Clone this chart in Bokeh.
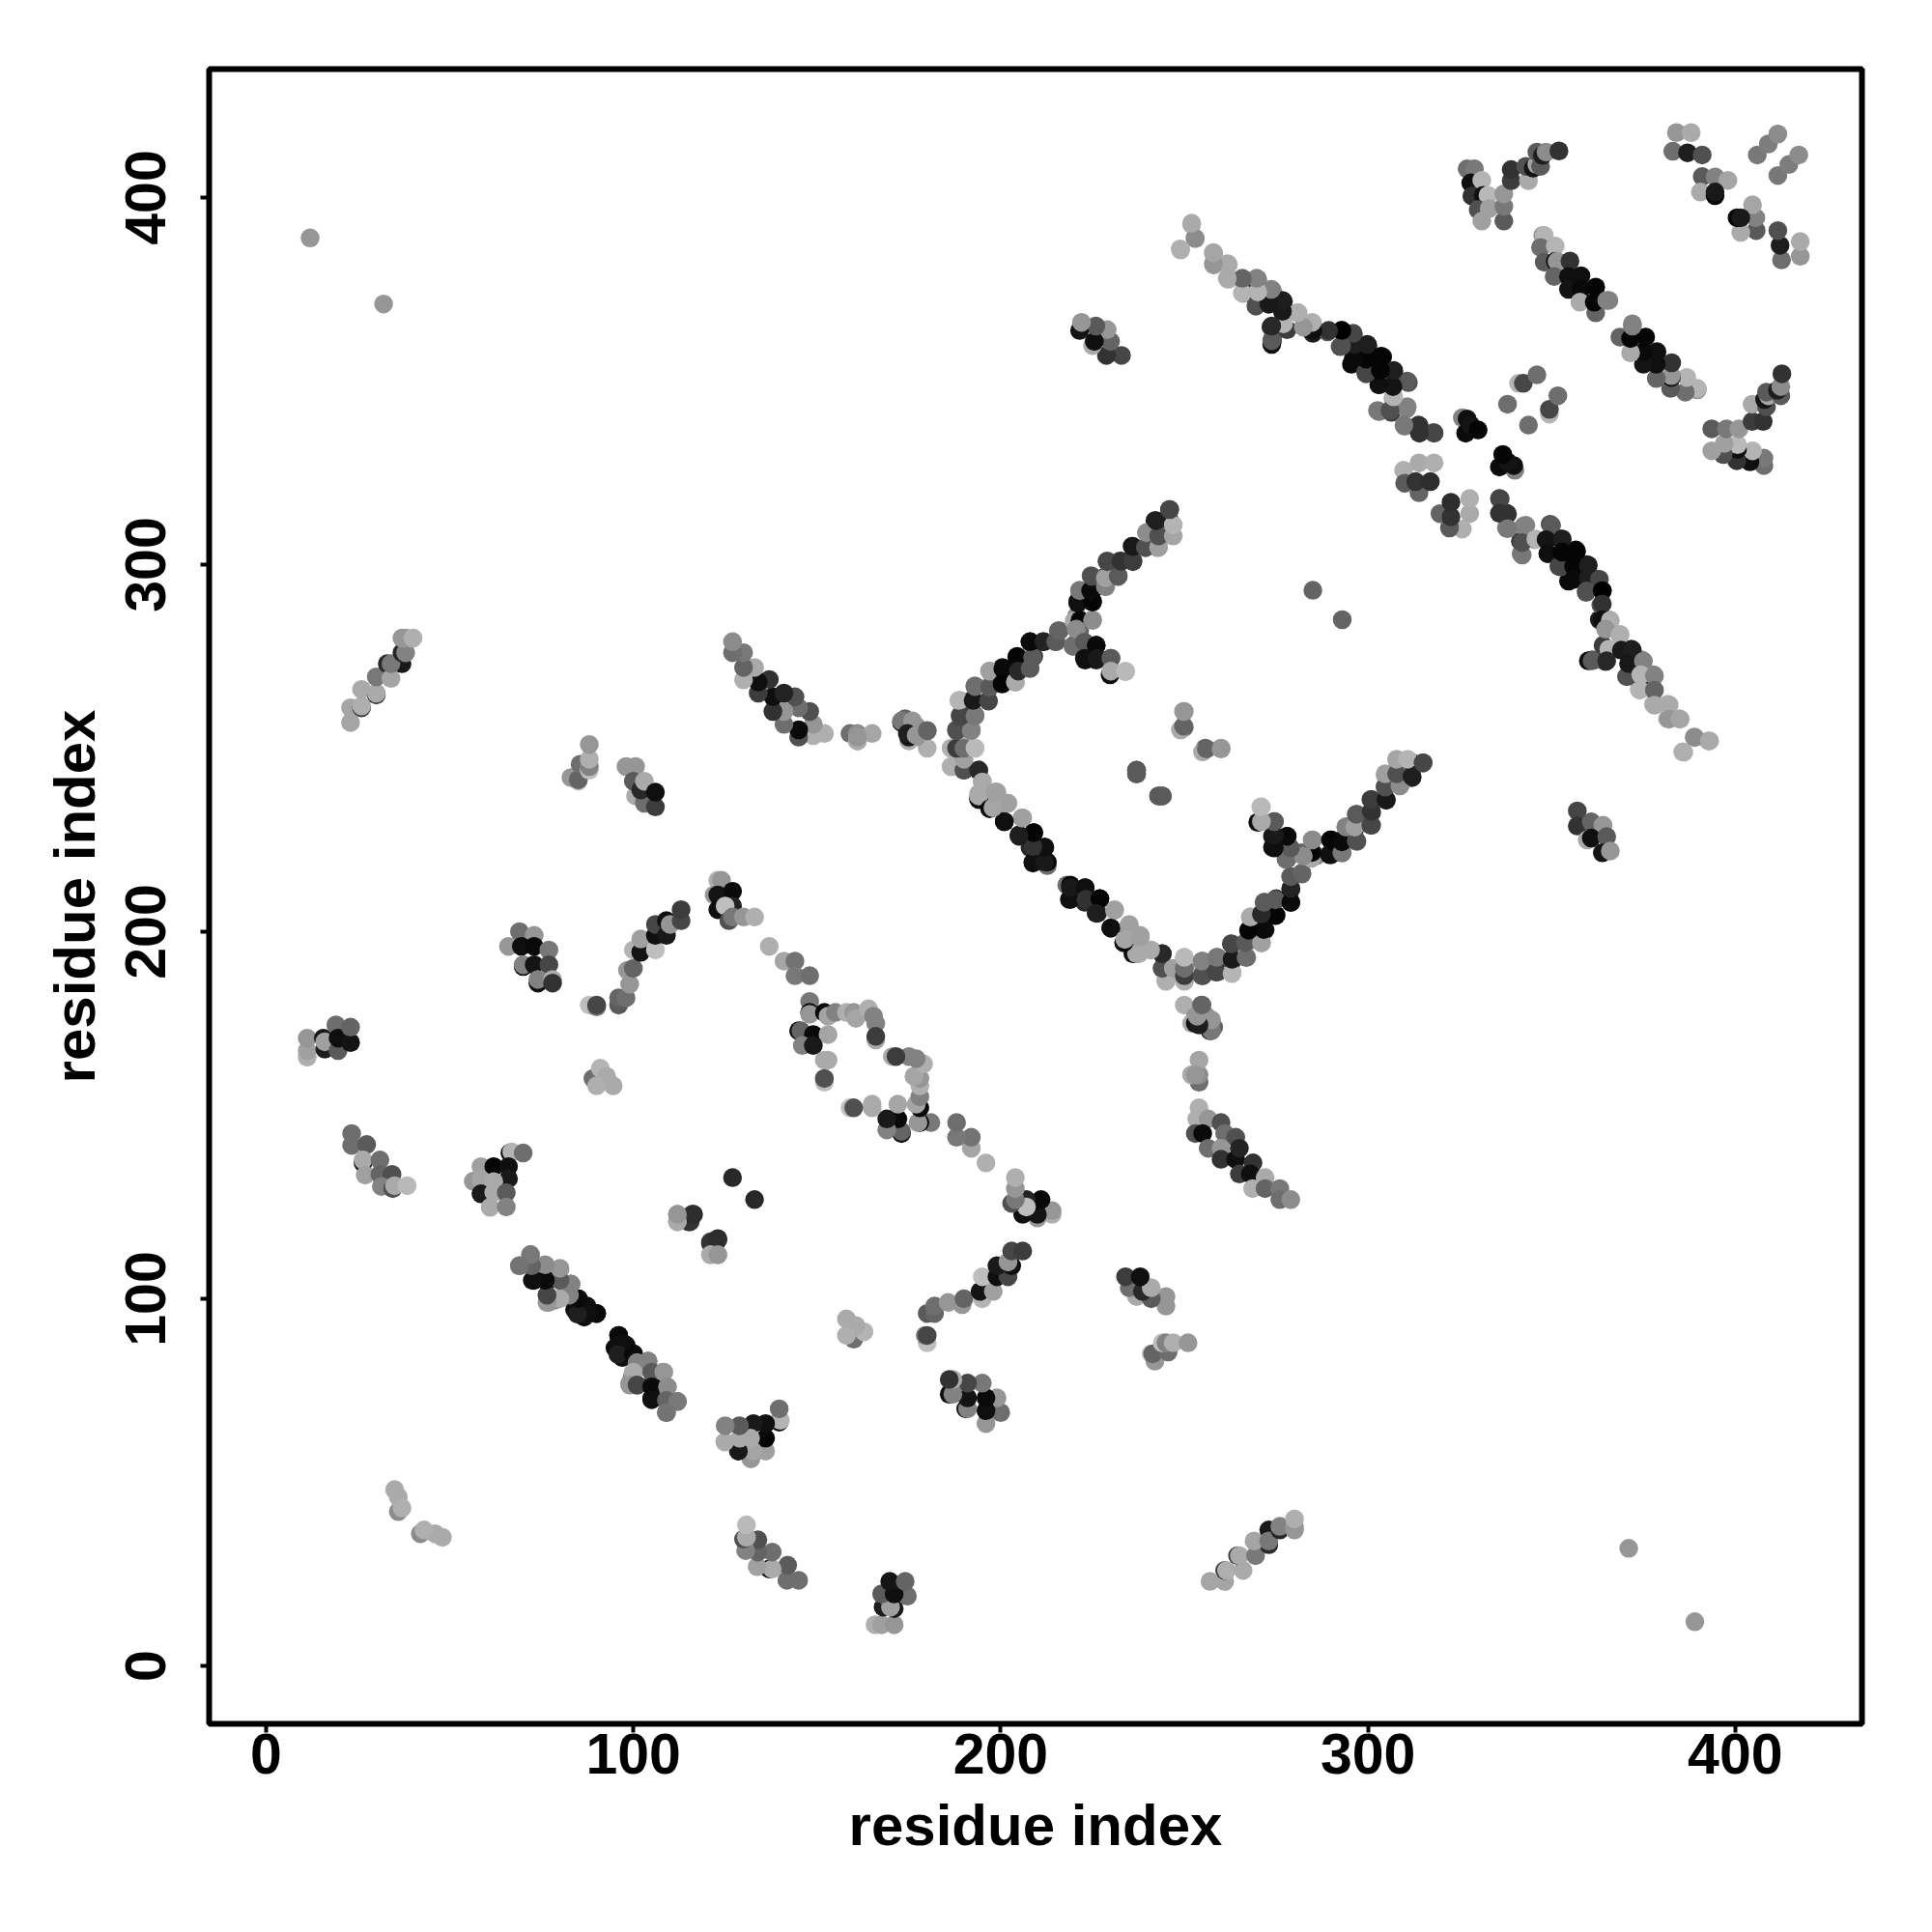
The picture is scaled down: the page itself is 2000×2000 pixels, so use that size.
from bokeh.plotting import figure
from bokeh.models import ColumnDataSource, FixedTicker
from bokeh.embed import file_html
from bokeh.resources import INLINE

# residue a, residue b, gray level; every contact is shown on both sides of the diagonal
singles = [(12,389,150),(32,371,150),(285,293,100),(127,133,40),(237,244,100),(237,243,90),(243,237,90),(244,237,90)]
c_36_47 = [(36,42,140),(36,46,170),(35,48,170),(37,43,175)]
c_23_40 = [(23,257,165),(23,261,165),(26,261,60),(26,261.5,175),(26,266,170),(30,264.5,60),(30,265,170),(30,269.4,120),(33,273,40),(34,269,165),(37,273,25),(34,273,120),(37,276,40),(38,276,130),(37,280,150),(38,280,150),(40,280,175)]
c_84_91 = [(85,241,190),(83,242,150),(85,241.4,100),(85.5,245.6,110),(88,244,190),(88,245,130),(88,247,175),(88,251,150)]
c_99_108 = [(98,245,150),(100.6,245,150),(100.6,237,170),(103,235,110),(100,241,90),(102,238.6,40),(103,241,170),(106,234,60),(106,238,15)]
c_70_80 = [(69,200,110),(73,199,150),(66,196,150),(69.5,196,15),(73,196,10),(77,195,120),(70,190.5,20),(70,191,130),(73,191,20),(77,191,70),(74,186,15),(74,187,130),(78,187,170),(78,186,50)]
c_90_125 = [(88,180,190),(90,179.5,120),(90,180,70),(96,180,90),(96,182,100),(98,182,110),(99,185.7,150),(98.4,189.5,150),(100,190,100),(100,195,180),(102,194.4,20),(102,198,160),(106,195,190),(106,199,15),(106,202,70),(109,199,25),(109,203,15),(110,202,150),(113,203,70),(113,206,60)]
c_122_133 = [(123,214,175),(124,214,150),(122,210,150),(123,210,20),(127,211,10),(123,206,15),(127,207,35),(125,207,190),(126,203,80),(127,204,120),(130,204,150),(133,204,175)]
c_137_148 = [(137,196,175),(141,192,165),(144,192,115),(144,188,120),(148,188,110)]
c_146_166 = [(148,181,120),(148,178,10),(148,177.5,150),(152,178,10),(153,177,165),(155,178,130),(158,178,175),(160,178,150),(160.6,176.4,165),(164,179,175),(165.4,177,130),(166,175,130),(166,170.5,170),(166,171.5,60),(145,173,15),(145.6,173,100),(149,172,10),(153,172,165),(146,169,130),(149,169,25),(153,165,170),(152,165,170),(152,159,190),(152,160,80)]
c_258_127 = [(254,152,175),(253.4,149,175),(256.5,149,150),(260,148,80),(253,145,80),(255,145,10),(261,145,110),(264,144,80),(256.5,141,110),(260,141,150),(260,138,50),(264,138,15),(265,141,35),(268.7,137,50),(265,134,60),(268,134,15),(272,133,170),(268.6,130,175),(272,130,100),(276,130,120),(276,127,110),(279,127,140)]
c_172_180 = [(250,180,175),(254.7,180,100),(253,177,150),(256,177,140),(252,175,170),(253,175,20),(257,173,25),(258,174,100),(252,161,180),(254,159,110),(254,161,140),(254,165,165),(161,252,170),(161,253,150)]
valley = [(235,201,170),(238,199,160),(241,195,175),(236,194,20),(237.6,194,170),(244,194,45),(244,190,90),(246,190,175),(245,187,170),(250,187,170),(250,189,100),(250,193,185),(252,189,180),(255,188,70),(255,192,120),(259,189,80),(259,193,100),(260,192,50),(263,189,185),(263,192,80),(263,196.6,80),(267,193,120),(267,197,170),(267.7,200,10),(271,197,160),(272,200.5,20)]
right_arm = [(268,204,160),(272,208,120),(271.4,204,15),(275,204.5,5),(275,209,50),(279,208,15),(279,211.5,20),(279,215,80),(282,215.7,100),(270.5,230,10),(271,234,190),(274.5,230,80),(274,226,25),(278,226,15),(274,223,15),(278.5,223,90),(278,219.8,100),(284,221,30),(282,221.5,100),(286,220.7,140),(285,225,165),(290,221,30),(290,225,5),(293,225,15),(293,221.5,120),(294,228.6,150),(296.4,228,25),(297,232,110),(297,224.6,90),(301,236,50),(305,235.8,20),(301,232.5,50),(301,229,80),(304.7,239.5,85),(308.8,240,120),(306,242.8,20),(304.7,242.6,160),(308,242.6,100),(308,246.5,165),(310.8,246.5,170),(312,242,30),(312,246,30),(315,246,60)]
left_arm = [(186.5,245,175),(190,244,80),(194,244,40),(190,247,160),(186.5,250,175),(188,250,60),(190,250,110),(193,250,185),(188,254.8,80),(192,254.8,130),(189,258.6,70),(193,258.8,120),(195,240.8,170),(194,236.5,10),(194,237,170),(198.7,238,160),(197,233.5,10),(198,233.8,80),(202,235,170),(201,230,10),(206,231,160),(205,226.4,40),(209,227,5),(208,222.9,40),(212,223,10),(212.7,218,110),(208.8,218.7,10),(212.7,219,5)]
upper_arm = [(188.6,263,180),(192.5,263,25),(196.7,262.8,70),(193,266.8,110),(197,266.6,90),(197,271,160),(200.6,271.6,10),(200.4,267.5,5),(204,268,170),(204.4,274.8,5),(204.8,271,40),(208,271.7,90),(208.7,274.8,90),(208,279,10),(211.8,279,35),(215,279,90),(216,282,100),(220,284.6,170),(221.6,284.8,5),(225,284.8,140),(221,289.5,15),(225,289.8,5),(221.5,292.9,120),(224.5,292.9,10),(224.8,296.8,80),(228.5,294,130),(228.5,296.4,160),(232,296.8,90),(229,300.8,70),(232.8,300.9,50),(236,300.8,60),(236,304.9,25),(239.4,304.7,80),(243,304.7,160),(239.7,308.7,140),(243,307.8,80),(247,307.8,165),(242.3,312,30),(247,310.8,180),(246,315,70)]
branch = [(219.7,277.7,110),(220.6,282.4,140),(222.8,278.9,90),(226,278,10),(222.8,274.5,15),(226.3,274.5,25),(230,274.5,90),(229.8,270,15),(230,271,170),(234,270.8,185)]
c_249_260 = [(249,255,170),(250,255.7,100),(250,260,150),(255,249,170),(256,249.8,100),(260,249.8,150)]
c_173_180 = [(173,257.4,120),(176,257.4,150),(174.6,254,30),(177,253.5,150),(180,254.8,100)]
near_diag_218 = [(219,208.8,15),(219,212,25),(223,212,15),(223.2,208.8,50),(227,209,5),(226,205,30),(231,205.8,160),(230,201,15),(235,201.8,160),(233.8,197.9,165),(238,198.5,160)]
band_t = [(252,392.7,180),(253,388.8,150),(249,385.7,175),(258,384.7,165),(258,381.6,160),(262,381.6,180),(262,377.7,180),(266,377.7,90),(270,377.7,130),(266,373.9,160),(269.6,370.8,90),(269,374,25),(270.5,374.8,180),(274,374.6,130),(273,371,40),(277,368,60),(277,371.7,35),(281,368.6,170),(274,361,30),(274,361.5,90),(273.6,364.7,50),(278,364,60),(282.8,364.7,150),(285,363,30),(285,365.6,180),(289,363.4,90),(292.8,363.8,10),(296,362.5,70),(292.4,359.4,90),(296.8,360,50),(300,359.6,40),(296.5,356.8,10),(300.7,356.8,5),(295.5,354.6,10),(299.4,352.4,80),(304,356.6,10),(303,352.9,5),(307,352.4,30),(303,349,15),(307,349,20),(311,349.6,80),(306.8,345.4,170),(303,341.7,120),(306.4,341.5,60),(310.5,342.4,130),(310,337.7,130),(314,336,50),(314,337.7,45),(318,335.8,60)]
dark_330 = [(325.7,340,130),(327,339.7,15),(326.6,335.8,10),(328,338,20),(330,336.7,5)]
c_310_318 = [(309.7,325.7,175),(310,322.2,90),(313.9,327.7,170),(318,327.7,175),(313.9,319.6,100),(313,322.6,50),(317,322.6,45)]
band_338 = [(336,317.9,70),(335.8,314,50),(338,313.8,50),(338,309.8,120),(343,310.7,130),(342,302.6,120),(342,306,80),(345.7,307,180),(350,310.7,90),(348.5,306.8,20),(349,303,15),(352.9,307,30),(352,299.5,70),(352.9,303.4,5),(356.8,303.6,5),(356,299.5,5),(360,299.8,30),(356,296,10),(360,296.4,30),(363,296,70),(359.5,292.8,80),(363.8,292.9,0),(363.8,289.3,50),(363.8,285,15),(366,284.8,175),(364.7,282.4,150),(368.6,280.8,175),(365.6,277,180),(369,276.7,25),(372,276.7,30),(360,273.8,15),(361,273.8,90),(365,273.8,40),(370.4,269.5,80),(371,273,25),(375,273.7,130),(374.3,270,180),(378,269.7,130),(374,265.8,180),(378,265.8,100),(378,261.7,170),(382,261.8,170),(382,257.9,150),(385,257.9,165),(389,252.9,140),(393,252,170),(386,248.9,175)]
c_357_366 = [(357,232.9,70),(357,228.8,50),(360.8,229.9,100),(364,229,150),(359.7,225,170),(360.8,225.5,15),(365,225.9,90),(363.8,221.5,20),(366,222,150)]
c_327_352 = [(327,407.8,110),(329,407.8,120),(328,404,15),(331,404.7,180),(328.3,400.4,50),(331.4,400.6,15),(332.7,400.6,185),(330,396.7,80),(333,397,160),(331,393.6,160),(337,393.6,90),(337,397.6,120),(337,401,150),(339,404.6,60),(339,407.6,50),(343.7,404.6,170),(343,408.5,80),(345,408,20),(346,409,165),(347,408.5,90),(346,412.4,90),(347.5,411.5,30),(348.5,412.4,140),(352,412.7,50)]
band_v = [(347.6,389.7,150),(348,389.7,180),(347,386.4,110),(351,386.8,180),(348,382.4,90),(351,382.6,15),(351.5,382.6,150),(355,382.7,50),(350.7,378.5,100),(354.6,378.5,15),(358,378.7,15),(354.6,375,20),(358,375,10),(357.7,371.5,170),(362,368.6,100),(361.6,371.5,5),(362,375.6,5),(365,372,130),(365.6,372,130)]
c_383_412 = [(384,417.7,150),(388,417.7,170),(383,412.6,110),(387,412.2,30),(391,411.6,80),(391,405.7,90),(394.5,405.6,130),(398,404.7,165),(390.5,401.5,170),(394.5,400.5,5),(394.5,401.5,25),(406,411.6,120),(409,414.6,125),(411.6,417.3,140)]
c_338_352 = [(338,343.7,110),(341,349.4,180),(342.3,349.4,70),(346,351.7,110)]
c_11_23 = [(11.2,165.8,175),(11.2,167.6,160),(11.2,171,150),(15.6,171,25),(16,168,30),(16,170,160),(19.6,167.6,90),(19,174.6,110),(19.6,171,15),(23,169.8,20),(23,174,100)]
c_23_38 = [(23.3,145,110),(23.3,141.8,110),(27.4,142,90),(26.4,137,15),(26.4,137.8,170),(31,137.8,110),(27,133.7,160),(31,133.9,100),(34.3,133.9,80),(31.4,130.6,130),(34.5,130,80),(35,130.8,170),(38.4,130.8,185)]
c_56_70 = [(66.4,139.7,15),(66.9,140,180),(70,139.7,110),(58.5,136,160),(62,136,5),(66,136,15),(56.4,132,150),(58.5,132.5,165),(66,132.7,25),(62,131.9,170),(58.5,128.6,25),(62,129,170),(65.4,128.9,90),(61,124.9,170),(65.4,125,130)]
band_ab = [(72,112,150),(69,109,120),(73,109,90),(76,109,130),(80,108,160),(73,105,10),(76.5,105,15),(81,104,170),(83,104,130),(76.5,101,80),(77,99,160),(78.7,99.7,140),(85,100,15),(87,98,20),(84,97,15),(86.6,95,10),(88,96,100),(90,96,5)]
band_ab2 = [(96,90,10),(95.8,87.4,15),(98,87.4,15),(95.8,84.8,30),(100,85,10),(101,82.6,130),(104,83,130),(100,80,170),(105,80,90),(108.3,80,150),(99,76.5,150),(101,76.5,70),(105,76,10),(109.3,76,140),(105,72.5,15),(109,72.3,100),(112,72,120),(109,69,115)]
c_90_94 = [(89,160,110),(91,162.8,180),(92.7,160.6,170),(90,158,175),(94.5,158,170)]
c_112_123 = [(112,123,150),(112,121,170),(115.5,121,60),(116.4,123,40),(121,115,50),(123,116,45),(121,112,170),(123,112,150)]

groups = [singles, c_36_47, c_23_40, c_84_91, c_99_108, c_70_80, c_90_125, c_122_133, c_137_148,
          c_146_166, c_258_127, c_172_180, valley, right_arm, left_arm, upper_arm, branch, c_249_260,
          c_173_180, near_diag_218, band_t, dark_330, c_310_318, band_338, c_357_366, c_327_352,
          band_v, c_383_412, c_338_352, c_11_23, c_23_38, c_56_70, band_ab, band_ab2, c_90_94, c_112_123]

tick_values = [0, 100, 200, 300, 400]
axis_title = "residue index"

xs, ys, cols = [], [], []
for grp in groups:
    for a, b, g in grp:
        col = "#%02x%02x%02x" % (g, g, g)
        xs += [a, b]
        ys += [b, a]
        cols += [col, col]
src = ColumnDataSource(dict(x=xs, y=ys, c=cols))

p = figure(width=1984, height=1984, output_backend="svg", toolbar_location=None,
           x_range=(-15.5, 434.5), y_range=(-15.8, 435.0),
           min_border_left=216, min_border_right=57, min_border_top=71, min_border_bottom=200)
p.scatter("x", "y", source=src, size=19.5, color="c", line_color=None)

p.grid.visible = False
p.outline_line_color = "black"
p.outline_line_width = 6
for ax in (p.xaxis[0], p.yaxis[0]):
    ax.ticker = FixedTicker(ticks=tick_values)
    ax.axis_label = axis_title
    ax.axis_label_text_font = "Liberation Sans"
    ax.axis_label_text_font_style = "bold"
    ax.axis_label_text_font_size = "60px"
    ax.axis_label_text_color = "black"
    ax.major_label_text_font = "Liberation Sans"
    ax.major_label_text_font_style = "bold"
    ax.major_label_text_font_size = "59px"
    ax.major_label_text_color = "black"
    ax.axis_line_color = None
    ax.major_tick_line_color = "black"
    ax.major_tick_line_width = 4
    ax.major_tick_out = 9
    ax.major_tick_in = 0
    ax.minor_tick_line_color = None
p.xaxis[0].major_label_standoff = 1
p.xaxis[0].axis_label_standoff = 17
p.yaxis[0].major_label_orientation = "parallel"
p.yaxis[0].major_label_standoff = 36
p.yaxis[0].axis_label_standoff = 17

open("out.html", "w").write(file_html(p, INLINE))
